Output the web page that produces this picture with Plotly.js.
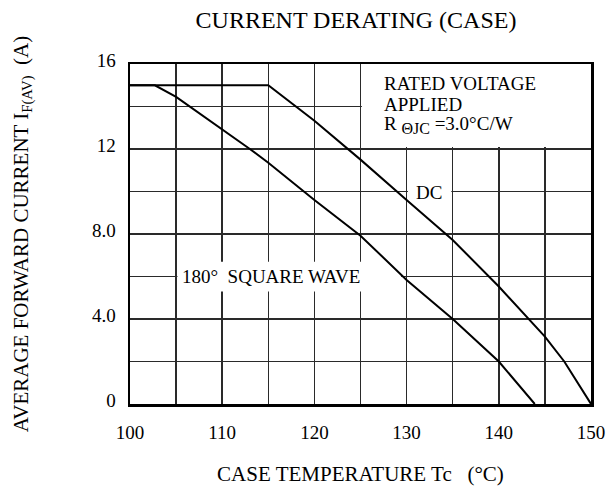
<!DOCTYPE html>
<html>
<head>
<meta charset="utf-8">
<script src="https://cdn.plot.ly/plotly-3.0.1.min.js"></script>
<style>html,body{margin:0;padding:0;background:#fff;}#chart{width:613px;height:495px;}</style>
</head>
<body>
<div id="chart"></div>
<script>
// Data
const dcTemp = [100, 115, 120, 125, 130, 135, 140, 145, 147.1, 150];
const dcCurrent = [15, 15, 13.33, 11.5, 9.6, 7.72, 5.53, 3.17, 2.0, 0];
const sqTemp = [100, 102.7, 105, 110, 113, 115, 120, 125, 130, 135, 140, 143.9];
const sqCurrent = [15, 15, 14.45, 12.94, 12, 11.35, 9.6, 7.92, 5.84, 4.0, 2.0, 0];
const xTickVals = [100, 110, 120, 130, 140, 150];
const xTickText = ['100', '110', '120', '130', '140', '150'];
const yTickVals = [0, 4, 8, 12, 16];
const yTickText = ['0', '4.0', '8.0', '12', '16'];

const FONT = 'Liberation Serif, Times New Roman, serif';
const lineStyle = {color: '#000', width: 2};
const GRID = '#2a2a2a';

const traces = [
  {x: dcTemp, y: dcCurrent, mode: 'lines', name: 'DC', line: lineStyle},
  {x: sqTemp, y: sqCurrent, mode: 'lines', name: '180° SQUARE WAVE', line: lineStyle}
];

const layout = {
  width: 613, height: 495,
  margin: {l: 130, r: 22, t: 64, b: 91},
  paper_bgcolor: '#fff', plot_bgcolor: '#fff',
  showlegend: false,
  font: {family: FONT, size: 19, color: '#000'},
  title: {
    text: 'CURRENT DERATING (CASE)',
    font: {family: FONT, size: 24, color: '#000'},
    x: 356 / 613, xanchor: 'center', xref: 'container',
    y: 1 - 20 / 495, yanchor: 'middle', yref: 'container'
  },
  xaxis: {
    range: [100, 150], tickmode: 'array', tickvals: xTickVals, ticktext: xTickText,
    showgrid: true, gridcolor: GRID, gridwidth: 1.5,
    minor: {tick0: 100, dtick: 5, showgrid: true, gridcolor: GRID, gridwidth: 1.5, ticks: ''},
    showline: true, linecolor: '#000', linewidth: 2.5, mirror: true,
    zeroline: false, ticks: '', ticklabelstandoff: 10,
    tickfont: {family: FONT, size: 19, color: '#000'},
    title: {text: 'CASE TEMPERATURE Tc\u00A0\u00A0\u00A0(°C)', font: {family: FONT, size: 21, color: '#000'}, standoff: 24},
    fixedrange: true
  },
  yaxis: {
    range: [0, 16], tickmode: 'array', tickvals: yTickVals, ticktext: yTickText,
    showgrid: true, gridcolor: GRID, gridwidth: 1.5,
    minor: {tick0: 0, dtick: 2, showgrid: true, gridcolor: GRID, gridwidth: 1.5, ticks: ''},
    showline: true, linecolor: '#000', linewidth: 2.5, mirror: true,
    zeroline: false, ticks: '', ticklabelstandoff: 8, ticklabelshift: -4,
    tickfont: {family: FONT, size: 19, color: '#000'},
    title: {text: 'AVERAGE FORWARD CURRENT I<sub>F(AV)</sub>\u00A0\u00A0(A)', font: {family: FONT, size: 21, color: '#000'}, standoff: 58},
    fixedrange: true
  },
  shapes: [
    {type: 'rect', xref: 'x', yref: 'y', x0: 125.15, x1: 150, y0: 12.1, y1: 16, fillcolor: '#fff', line: {width: 0}, layer: 'between'},
    {type: 'rect', xref: 'x', yref: 'y', x0: 105.15, x1: 129.4, y0: 5.3, y1: 6.7, fillcolor: '#fff', line: {width: 0}, layer: 'between'},
    {type: 'rect', xref: 'x', yref: 'y', x0: 130.15, x1: 134.85, y0: 9.35, y1: 10.65, fillcolor: '#fff', line: {width: 0}, layer: 'between'}
  ],
  annotations: [
    {xref: 'x', yref: 'y', x: 127.3, y: 15.1, xanchor: 'left', yanchor: 'middle', showarrow: false, align: 'left',
     text: 'RATED VOLTAGE', font: {family: FONT, size: 19, color: '#000'}},
    {xref: 'x', yref: 'y', x: 127.3, y: 14.08, xanchor: 'left', yanchor: 'middle', showarrow: false, align: 'left',
     text: 'APPLIED', font: {family: FONT, size: 19, color: '#000'}},
    {xref: 'x', yref: 'y', x: 127.3, y: 13.15, xanchor: 'left', yanchor: 'middle', showarrow: false, align: 'left',
     text: 'R <sub><span style="font-size:16px">ΘJC</span></sub> =3.0°C/W', font: {family: FONT, size: 19, color: '#000'}},
    {xref: 'x', yref: 'y', x: 105.4, y: 6.0, xanchor: 'left', yanchor: 'middle', showarrow: false,
     text: '180°\u00A0\u00A0SQUARE WAVE', font: {family: FONT, size: 19, color: '#000'}},
    {xref: 'x', yref: 'y', x: 132.45, y: 9.95, xanchor: 'center', yanchor: 'middle', showarrow: false,
     text: 'DC', font: {family: FONT, size: 19, color: '#000'}}
  ]
};

Plotly.newPlot('chart', traces, layout, {displayModeBar: false, staticPlot: true});
</script>
</body>
</html>
